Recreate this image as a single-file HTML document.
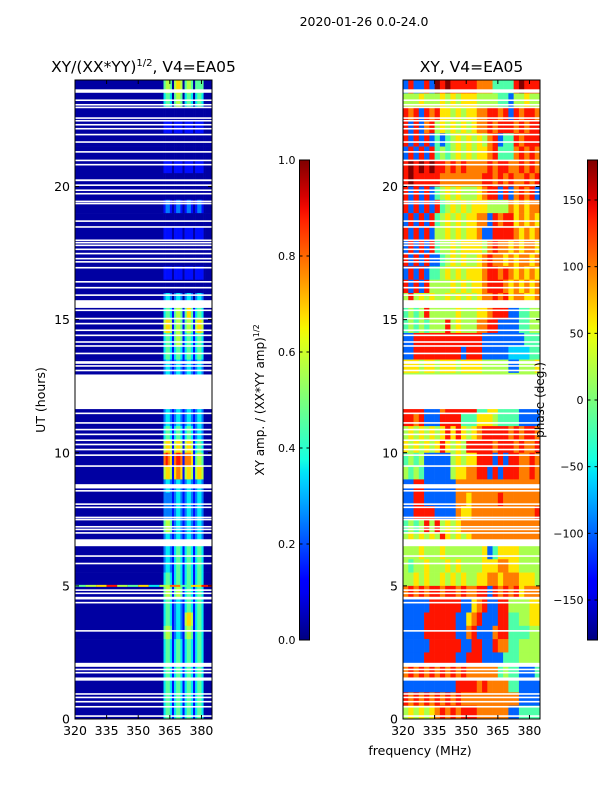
<!DOCTYPE html>
<html><head><meta charset="utf-8"><style>
html,body{margin:0;padding:0;background:#fff;}
svg{display:block;font-family:"DejaVu Sans","Liberation Sans",sans-serif;}
</style></head><body>
<svg id="fig" width="600" height="800" viewBox="0 0 600 800" xmlns="http://www.w3.org/2000/svg">
<rect width="600" height="800" fill="#fff"/>
<text x="364" y="26" font-size="12.5" text-anchor="middle">2020-01-26 0.0-24.0</text>
<text x="143.5" y="72" font-size="15.5" text-anchor="middle">XY/(XX*YY)<tspan font-size="10" dy="-6">1/2</tspan><tspan dy="6">, V4=EA05</tspan></text>
<text x="471.5" y="72" font-size="15.5" text-anchor="middle">XY, V4=EA05</text>
<g id="left"></g>
<g id="right"></g>
<g id="axes"></g>
<text transform="translate(45,400) rotate(-90)" font-size="12.5" text-anchor="middle">UT (hours)</text>
<text x="420" y="755" font-size="12.5" text-anchor="middle">frequency (MHz)</text>
<text transform="translate(264,400) rotate(-90)" font-size="12" text-anchor="middle">XY amp. / (XX*YY amp)<tspan font-size="8" dy="-5">1/2</tspan></text>
<text transform="translate(544,400) rotate(-90)" font-size="12" text-anchor="middle">phase (deg.)</text>
</svg>
<script>
const hoursPerRow = 0.5;
const ampBg = ["0","0","0","0","0","0","0","0","0","0","0","0","0","0","0","0","0","0","0","0","0","0","0","0","0","0","0","0","0","0","0","0","0","0","0","0","0","0","0","0","0","0","0","0","0","0","0","0"];
// stripe region 362..384 MHz (1 MHz cols), rows top (23.5-24h) to bottom (0-0.5h)
const ampStripes = [
"4554"+"0"+"5665"+"0"+"4554"+"0"+"4444"+"0000",
"3443"+"0"+"4554"+"0"+"3443"+"0"+"3443"+"0000",
"0000"+"0"+"0000"+"0"+"0000"+"0"+"0000"+"0000",
"1111"+"0"+"1111"+"0"+"1111"+"0"+"1111"+"0000",
"0000"+"0"+"0000"+"0"+"0000"+"0"+"0000"+"0000",
"0000"+"0"+"0000"+"0"+"0000"+"0"+"0000"+"0000",
"1111"+"0"+"1111"+"0"+"1111"+"0"+"1111"+"0000",
"0000"+"0"+"0000"+"0"+"0000"+"0"+"0000"+"0000",
"0000"+"0"+"0000"+"0"+"0000"+"0"+"0000"+"0000",
"1221"+"0"+"1221"+"0"+"1221"+"0"+"1221"+"0000",
"0000"+"0"+"0000"+"0"+"0000"+"0"+"0000"+"0000",
"1111"+"0"+"1111"+"0"+"1111"+"0"+"1111"+"0000",
"0000"+"0"+"0000"+"0"+"0000"+"0"+"0000"+"0000",
"0000"+"0"+"0000"+"0"+"0000"+"0"+"0000"+"0000",
"1111"+"0"+"1111"+"0"+"1111"+"0"+"1111"+"0000",
"0000"+"0"+"0000"+"0"+"0000"+"0"+"0000"+"0000",
"2332"+"0"+"2332"+"0"+"2332"+"0"+"2332"+"0000",
"3443"+"1"+"4554"+"1"+"4664"+"1"+"3443"+"0000",
"5665"+"1"+"4554"+"1"+"4554"+"1"+"5665"+"0000",
"3443"+"1"+"4554"+"1"+"3443"+"1"+"3443"+"0000",
"3443"+"1"+"3443"+"1"+"3443"+"1"+"3443"+"0000",
"2332"+"1"+"2332"+"1"+"2332"+"1"+"2332"+"0000",
"2332"+"1"+"2332"+"1"+"2332"+"1"+"2332"+"0000",
"2332"+"1"+"2332"+"1"+"2332"+"1"+"2332"+"0000",
"2332"+"1"+"2332"+"1"+"2332"+"1"+"2332"+"0000",
"2332"+"1"+"2332"+"1"+"2332"+"1"+"2332"+"0000",
"3443"+"1"+"3443"+"1"+"3443"+"1"+"2332"+"0000",
"5665"+"1"+"5665"+"1"+"5665"+"1"+"3443"+"0000",
"7876"+"1"+"7887"+"1"+"7776"+"1"+"4554"+"0000",
"5665"+"1"+"6776"+"1"+"5665"+"1"+"5665"+"0000",
"2332"+"1"+"2332"+"1"+"2332"+"1"+"2332"+"0000",
"2222"+"1"+"2332"+"1"+"2332"+"1"+"2332"+"0000",
"2222"+"1"+"2332"+"1"+"2332"+"1"+"2332"+"0000",
"4554"+"1"+"2332"+"1"+"2332"+"1"+"2332"+"0000",
"2332"+"1"+"2332"+"1"+"2332"+"1"+"2332"+"0000",
"2332"+"1"+"3443"+"1"+"3443"+"1"+"3443"+"0000",
"2332"+"1"+"3443"+"1"+"3443"+"1"+"3443"+"0000",
"3443"+"1"+"3443"+"1"+"3443"+"1"+"3443"+"0000",
"4554"+"1"+"4554"+"1"+"3443"+"1"+"3443"+"0000",
"3443"+"1"+"2332"+"1"+"3443"+"1"+"3443"+"0000",
"3443"+"1"+"2332"+"1"+"5665"+"1"+"3443"+"0000",
"4554"+"1"+"2332"+"1"+"4554"+"1"+"3443"+"0000",
"3443"+"1"+"3443"+"1"+"3443"+"1"+"3443"+"0000",
"3443"+"1"+"3443"+"1"+"3443"+"1"+"3443"+"0000",
"3443"+"1"+"3443"+"1"+"3443"+"1"+"3443"+"0000",
"3443"+"1"+"3443"+"1"+"3443"+"1"+"3443"+"0000",
"3443"+"1"+"3443"+"1"+"3443"+"1"+"3443"+"0000",
"3443"+"1"+"3443"+"1"+"3443"+"1"+"3443"+"0000"
];
// colored line at 5.0 h across amplitude panel (5 MHz cols 320..385)
const ampLineHour = 5.0;
const ampLineVals = ["4","5","6","8","5","4","6","3","5","7","4","6","8"];
// phase, 2.5 MHz cols 320..385, chars 0..9 => -180..180 deg, top row first
const phaseRows = [
"282282"+"989888"+"8877"+"7444"+"4898"+"88",
"555655"+"565656"+"6655"+"5544"+"2556"+"55",
"878287"+"866565"+"6677"+"8878"+"2878"+"87",
"828278"+"565656"+"5677"+"8788"+"8787"+"88",
"828282"+"424565"+"6565"+"7824"+"4878"+"88",
"282828"+"454565"+"6566"+"7844"+"4787"+"87",
"898989"+"887878"+"7777"+"8788"+"7787"+"87",
"898888"+"877777"+"7778"+"8787"+"8778"+"78",
"828282"+"456565"+"5567"+"8828"+"2787"+"82",
"828282"+"845656"+"5666"+"5555"+"7676"+"77",
"282828"+"456565"+"6677"+"2878"+"8676"+"76",
"828282"+"556565"+"6672"+"2888"+"8767"+"67",
"282828"+"455656"+"6665"+"7877"+"6767"+"76",
"828282"+"245656"+"5567"+"8776"+"7677"+"67",
"282824"+"456565"+"6667"+"8878"+"7676"+"76",
"828285"+"555656"+"5667"+"8887"+"6767"+"67",
"585656"+"556565"+"6567"+"7878"+"6776"+"67",
"454585"+"555565"+"5566"+"7888"+"2244"+"55",
"454545"+"558565"+"5577"+"8822"+"2244"+"55",
"228888"+"888888"+"8882"+"2222"+"2224"+"44",
"228888"+"888882"+"8882"+"2222"+"3333"+"44",
"666566"+"566656"+"6665"+"5555"+"2255"+"56",
"555555"+"555555"+"5555"+"5555"+"5555"+"55",
"555555"+"555555"+"5555"+"5555"+"5555"+"55",
"888822"+"278888"+"8844"+"6644"+"4422"+"22",
"887822"+"288884"+"4466"+"6544"+"4422"+"22",
"565656"+"568686"+"5678"+"8888"+"7878"+"87",
"656565"+"686565"+"8888"+"8788"+"8787"+"78",
"454522"+"222565"+"6688"+"8282"+"8877"+"87",
"545422"+"222566"+"7788"+"2828"+"8877"+"87",
"228822"+"222277"+"7777"+"7777"+"7777"+"77",
"228822"+"222277"+"6777"+"7787"+"7777"+"77",
"228888"+"222276"+"6777"+"7777"+"7777"+"78",
"454585"+"856567"+"7777"+"7777"+"7777"+"77",
"565656"+"586565"+"6777"+"7777"+"7777"+"77",
"555655"+"565555"+"5556"+"2466"+"6655"+"55",
"545565"+"556565"+"5556"+"6677"+"6655"+"55",
"556565"+"565656"+"5566"+"7767"+"7766"+"65",
"787878"+"878878"+"7788"+"2878"+"7867"+"77",
"222228"+"888882"+"2678"+"2288"+"5555"+"66",
"222288"+"888822"+"6782"+"2288"+"4455"+"66",
"222288"+"888822"+"7822"+"2788"+"4444"+"55",
"222228"+"888882"+"2882"+"2877"+"4455"+"55",
"222288"+"888822"+"8882"+"2224"+"4455"+"55",
"787878"+"787878"+"7777"+"7745"+"4422"+"24",
"222222"+"222288"+"8878"+"7777"+"4422"+"22",
"878787"+"878787"+"7777"+"7777"+"7722"+"22",
"565656"+"787878"+"8877"+"7777"+"2244"+"44"
];
const flagStart = [23.52,23.21,23.04,22.94,22.54,22.44,22.29,22.14,21.92,21.64,21.27,20.95,20.79,20.2,20.02,19.83,19.7,19.41,19.33,18.67,18.45,17.95,17.86,17.76,17.61,17.45,17.26,17.14,16.92,16.39,16.17,15.89,15.44,15.32,15.01,14.82,14.57,14.38,14.13,13.98,13.7,13.34,13.23,13.06,11.64,11.45,11.09,10.84,10.66,10.44,10.28,10.09,9.88,9.47,8.66,8.54,8.04,7.92,7.54,7.46,7.19,7.09,6.96,6.49,6.09,5.81,4.81,4.69,4.49,4.34,3.28,1.96,1.83,1.71,1.44,0.91,0.78,0.62,0.43,0.08];
const flagEnd   = [23.65,23.27,23.1,23.0,22.6,22.5,22.35,22.2,21.98,21.7,21.33,21.01,20.85,20.27,20.08,19.89,19.76,19.47,19.39,18.73,18.51,18.01,17.92,17.82,17.67,17.51,17.32,17.2,16.98,16.45,16.23,15.95,15.73,15.38,15.07,14.88,14.63,14.44,14.19,14.04,13.76,13.44,13.29,13.12,12.94,11.51,11.15,10.9,10.72,10.5,10.34,10.15,9.94,9.53,8.82,8.6,8.1,7.98,7.6,7.52,7.25,7.15,7.02,6.75,6.15,5.87,4.87,4.75,4.59,4.4,3.34,2.11,1.89,1.77,1.56,0.97,0.84,0.68,0.49,0.14];
const xTicks = [320,335,350,365,380];
const yTicks = [0,5,10,15,20];
const ampTicks = [0.0,0.2,0.4,0.6,0.8,1.0];
const phaseTicks = [-150,-100,-50,0,50,100,150];

const NS="http://www.w3.org/2000/svg";
const P={y0:80,y1:719,w:137};
const panels=[{x0:75},{x0:403}];
function xs(p,f){return p.x0+(f-320)*P.w/65;}
function ys(h){return P.y1-h*(P.y1-P.y0)/24;}
function interp(pts,v){for(let i=1;i<pts.length;i++){if(v<=pts[i][0]){const a=pts[i-1],b=pts[i];return a[1]+(b[1]-a[1])*(v-a[0])/(b[0]-a[0]);}}return pts[pts.length-1][1];}
function jet(v){v=Math.max(0,Math.min(1,v));
 const r=interp([[0,0],[0.35,0],[0.66,1],[0.89,1],[1,0.5]],v);
 const g=interp([[0,0],[0.125,0],[0.375,1],[0.64,1],[0.91,0],[1,0]],v);
 const b=interp([[0,0.5],[0.11,1],[0.34,1],[0.65,0],[1,0]],v);
 return `rgb(${Math.round(r*255)},${Math.round(g*255)},${Math.round(b*255)})`;}
function mk(tag,attrs,parent){const e=document.createElementNS(NS,tag);for(const k in attrs)e.setAttribute(k,attrs[k]);parent.appendChild(e);return e;}
function ampColor(c){return jet(0.03+(+c)/9*0.97);}

const L=document.getElementById('left'),R=document.getElementById('right'),A=document.getElementById('axes');
const nRows=ampStripes.length;
for(let i=0;i<nRows;i++){
 const hTop=24-i*hoursPerRow,hBot=hTop-hoursPerRow;
 const yT=ys(hTop),yB=ys(hBot);
 let e=mk('rect',{x:xs(panels[0],320),y:yT,width:xs(panels[0],362)-xs(panels[0],320)+0.3,height:yB-yT+0.3,fill:ampColor(ampBg[i])},L);
 
 
 const s=ampStripes[i];
 for(let j=0;j<s.length;j++){
  const f=362+j;
  e=mk('rect',{x:xs(panels[0],f),y:yT,width:xs(panels[0],f+1)-xs(panels[0],f)+0.3,height:yB-yT+0.3,fill:ampColor(s[j])},L);
  
  
 }
 const p=phaseRows[i];
 for(let j=0;j<p.length;j++){
  const f=320+j*2.5;
  const deg=-180+(+p[j])*40;
  e=mk('rect',{x:xs(panels[1],f),y:yT,width:xs(panels[1],Math.min(385,f+2.5))-xs(panels[1],f)+0.3,height:yB-yT+0.3,fill:jet((deg+180)/360)},R);
  
  
 }
}
for(let j=0;j<ampLineVals.length;j++){
 const f=320+j*5;
 const e=mk('rect',{x:xs(panels[0],f),y:ys(ampLineHour)-1,width:xs(panels[0],f+5)-xs(panels[0],f),height:2,fill:ampColor(ampLineVals[j])},L);
 
 
}
for(let k=0;k<flagStart.length;k++){
 for(const p of panels){
  const yT=ys(flagEnd[k]),yB=ys(flagStart[k]);
  const e=mk('rect',{x:p.x0,y:yT,width:P.w,height:Math.max(1.2,yB-yT),fill:'#fff'},p===panels[0]?L:R);
  
  
 }
}
panels.forEach((p,pi)=>{
 let e=mk('rect',{x:p.x0,y:P.y0,width:P.w,height:P.y1-P.y0,fill:'none',stroke:'#000','stroke-width':1},A);
 
 
 xTicks.forEach(t=>{const x=xs(p,t);
  mk('line',{x1:x,x2:x,y1:P.y1,y2:P.y1-4,stroke:'#000'},A);
  mk('line',{x1:x,x2:x,y1:P.y0,y2:P.y0+4,stroke:'#000'},A);
  const tx=mk('text',{x:x,y:P.y1+16,'font-size':12.5,'text-anchor':'middle'},A);tx.textContent=t;
  
  
 });
 yTicks.forEach(t=>{const y=ys(t);
  mk('line',{x1:p.x0,x2:p.x0+4,y1:y,y2:y,stroke:'#000'},A);
  mk('line',{x1:p.x0+P.w,x2:p.x0+P.w-4,y1:y,y2:y,stroke:'#000'},A);
  const tx=mk('text',{x:p.x0-5,y:y+4.5,'font-size':12.5,'text-anchor':'end'},A);tx.textContent=t;
  
  
 });
});
const defs=mk('defs',{},A);
const grad=mk('linearGradient',{id:'jetg',x1:0,y1:1,x2:0,y2:0},defs);
for(let i=0;i<=40;i++)mk('stop',{offset:i/40,'stop-color':jet(i/40)},grad);
const cbs=[{x:299.5,ticks:ampTicks,lo:0,hi:1,name:'colorbar-amp',fmt:v=>v.toFixed(1)},{x:587.5,ticks:phaseTicks,lo:-180,hi:180,name:'colorbar-phase',fmt:v=>v<0?'\u2212'+(-v):''+v}];
cbs.forEach(c=>{
 let e=mk('rect',{x:c.x,y:160,width:10,height:480,fill:'url(#jetg)',stroke:'#000','stroke-width':1},A);
 
 
 c.ticks.forEach(t=>{const y=640-(t-c.lo)/(c.hi-c.lo)*480;
  mk('line',{x1:c.x,x2:c.x+3,y1:y,y2:y,stroke:'#000'},A);
  mk('line',{x1:c.x+10,x2:c.x+7,y1:y,y2:y,stroke:'#000'},A);
  const tx=mk('text',{x:c.x-4,y:y+4,'font-size':11,'text-anchor':'end'},A);tx.textContent=c.fmt(t);
  
  
 });
});
</script>
</body></html>
